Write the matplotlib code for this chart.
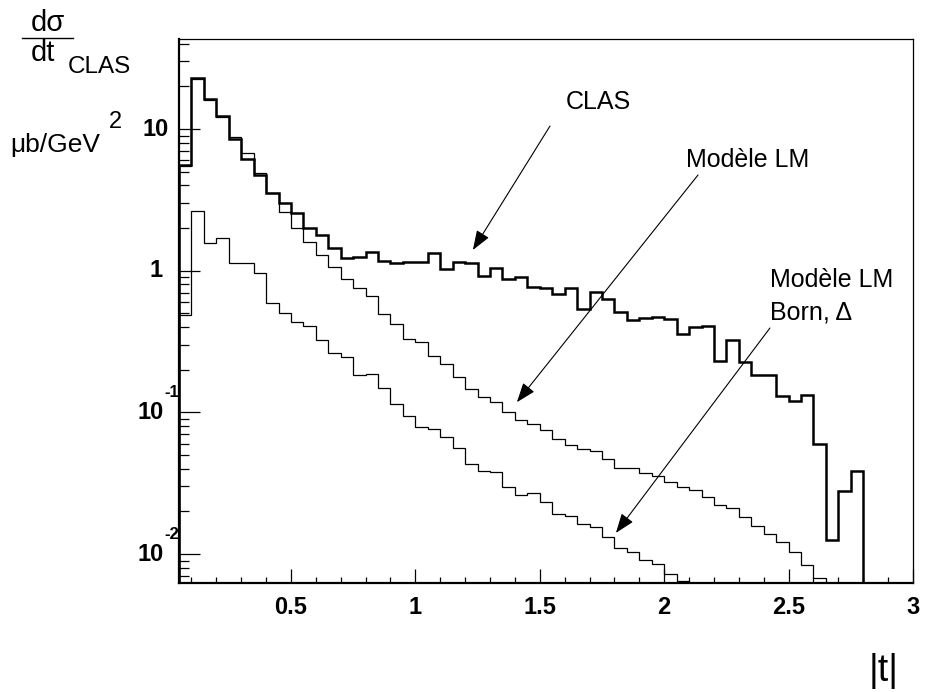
import matplotlib
matplotlib.use("Agg")
import matplotlib.pyplot as plt
import numpy as np

plt.rcParams['font.family'] = ['Liberation Sans', 'DejaVu Sans']

# histogram binning (|t| in GeV^2)
bin_start = 0.05
bin_width = 0.05

# CLAS data, dsigma/dt in mub/GeV^2
clas = [5.6, 22.8, 16.2, 12.4, 8.46, 6.17, 4.71, 3.55, 3.02, 2.54,
        1.99, 1.79, 1.45, 1.22, 1.25, 1.36, 1.17, 1.14, 1.15, 1.16,
        1.33, 1.03, 1.16, 1.14, 0.92, 1.04, 0.87, 0.91, 0.77, 0.757,
        0.69, 0.76, 0.534, 0.708, 0.631, 0.508, 0.449, 0.461, 0.469, 0.456,
        0.356, 0.403, 0.41, 0.232, 0.326, 0.228, 0.184, 0.184, 0.131, 0.120,
        0.133, 0.0598, 0.0126, 0.0279, 0.0386]

# Modele LM
lm = [5.5, 22.5, 16.0, 12.2, 8.74, 6.74, 4.92, 3.55, 2.58, 1.99,
      1.60, 1.29, 1.07, 0.873, 0.751, 0.663, 0.495, 0.421, 0.330, 0.316,
      0.250, 0.218, 0.177, 0.146, 0.129, 0.118, 0.100, 0.0883, 0.0824, 0.0751,
      0.0645, 0.0586, 0.0549, 0.0537, 0.0467, 0.0403, 0.0403, 0.0372, 0.0357, 0.0321,
      0.0299, 0.0283, 0.0254, 0.0221, 0.0212, 0.0184, 0.0159, 0.0139, 0.0121, 0.0104,
      0.00838, 0.00675]

# Modele LM, Born + Delta
born = [0.487, 2.64, 1.56, 1.71, 1.13, 1.13, 0.959, 0.589, 0.505, 0.436,
        0.409, 0.324, 0.261, 0.247, 0.184, 0.188, 0.148, 0.115, 0.0948, 0.0793,
        0.076, 0.0674, 0.0558, 0.0432, 0.0388, 0.0378, 0.0296, 0.0261, 0.0271, 0.0234,
        0.0192, 0.0186, 0.0162, 0.0156, 0.0131, 0.0111, 0.0104, 0.00908, 0.00847, 0.00724,
        0.00649]

xticks = [0.5, 1, 1.5, 2, 2.5, 3]
xticklabels = ['0.5', '1', '1.5', '2', '2.5', '3']
yticks = [0.01, 0.1, 1, 10]


def edges(vals):
    return bin_start + bin_width * np.arange(len(vals) + 1)


fig = plt.figure(figsize=(9.25, 6.92), dpi=100)
W, H = 925, 692
ax = fig.add_axes([179 / W, 1 - 583 / H, (913 - 179) / W, (583 - 39) / H])

ax.stairs(born, edges(born), baseline=1e-3, color='black', lw=0.9)
ax.stairs(lm, edges(lm), baseline=1e-3, color='black', lw=0.9)
ax.stairs(clas, edges(clas), baseline=1e-3, color='black', lw=1.8)

ax.set_yscale('log')
ax.set_xlim(0.05, 3.0)
ax.set_ylim(0.00625, 43.2)

# frame: ROOT style
for s in ['left', 'bottom']:
    ax.spines[s].set_linewidth(1.6)
for s in ['top', 'right']:
    ax.spines[s].set_linewidth(0.9)

ax.set_xticks(xticks)
ax.set_xticklabels(xticklabels, fontsize=17, fontweight='bold')
ax.set_xticks(np.arange(0.1, 3.0, 0.1), minor=True)
ax.tick_params(axis='x', which='major', direction='in', length=10, width=0.9, pad=9)
ax.tick_params(axis='x', which='minor', direction='in', length=4.5, width=0.9)

ax.set_yticks(yticks)
ax.set_yticklabels([])
ax.yaxis.set_minor_locator(matplotlib.ticker.LogLocator(base=10, subs=np.arange(2, 10)))
ax.yaxis.set_minor_formatter(matplotlib.ticker.NullFormatter())
ax.tick_params(axis='y', which='major', direction='in', length=15, width=0.9)
ax.tick_params(axis='y', which='minor', direction='in', length=7.5, width=0.9)

# y tick labels, ROOT places the exponent after the "10"
ytr = ax.get_yaxis_transform()
px = 1.0 / (913 - 179)
for v in yticks:
    e = int(round(np.log10(v)))
    if e == 1:
        ax.text(-10 * px, v, '10', transform=ytr, ha='right', va='center', fontsize=17, fontweight='bold')
    elif e == 0:
        ax.text(-16 * px, v, '1', transform=ytr, ha='right', va='center', fontsize=17, fontweight='bold')
    else:
        ax.text(-15 * px, v, '10', transform=ytr, ha='right', va='center', fontsize=17, fontweight='bold')
        ax.text(-15 * px, v * 1.38, str(e), transform=ytr, ha='left', va='center',
                fontsize=12, fontweight='bold')

# annotations with arrows
arrow = dict(arrowstyle='-|>,head_length=0.6,head_width=0.22', mutation_scale=20,
             color='black', lw=0.8, shrinkA=0, shrinkB=0)
ax.annotate('', xy=(1.231, 1.40), xytext=(1.541, 10.5), arrowprops=arrow)
ax.annotate('', xy=(1.408, 0.118), xytext=(2.136, 4.74), arrowprops=arrow)
ax.annotate('', xy=(1.806, 0.0141), xytext=(2.425, 0.394), arrowprops=arrow)

ax.text(1.734, 15.5, 'CLAS', ha='center', va='center', fontsize=18)
ax.text(2.337, 6.04, 'Modèle LM', ha='center', va='center', fontsize=18)
ax.text(2.425, 0.86, 'Modèle LM', ha='left', va='center', fontsize=18)
ax.text(2.425, 0.511, 'Born, Δ', ha='left', va='center', fontsize=18)

# y title: d sigma / dt (CLAS) in mub/GeV^2
fig.text(48 / W, 1 - 37 / H, 'dσ', ha='center', va='bottom', fontsize=21)
fig.add_artist(plt.Line2D([22 / W, 73 / W], [1 - 38 / H, 1 - 38 / H], color='black', lw=1.0))
fig.text(43 / W, 1 - 39 / H, 'dt', ha='center', va='top', fontsize=21)
fig.text(99 / W, 1 - 67 / H, 'CLAS', ha='center', va='center', fontsize=17.5)
fig.text(10 / W, 1 - 145 / H, 'μb/GeV', ha='left', va='center', fontsize=19)
fig.text(115 / W, 1 - 122 / H, '2', ha='center', va='center', fontsize=17)

# x title
fig.text(884 / W, 1 - 671 / H, '|t|', ha='center', va='center', fontsize=27)

fig.savefig('out.png', dpi=100)
